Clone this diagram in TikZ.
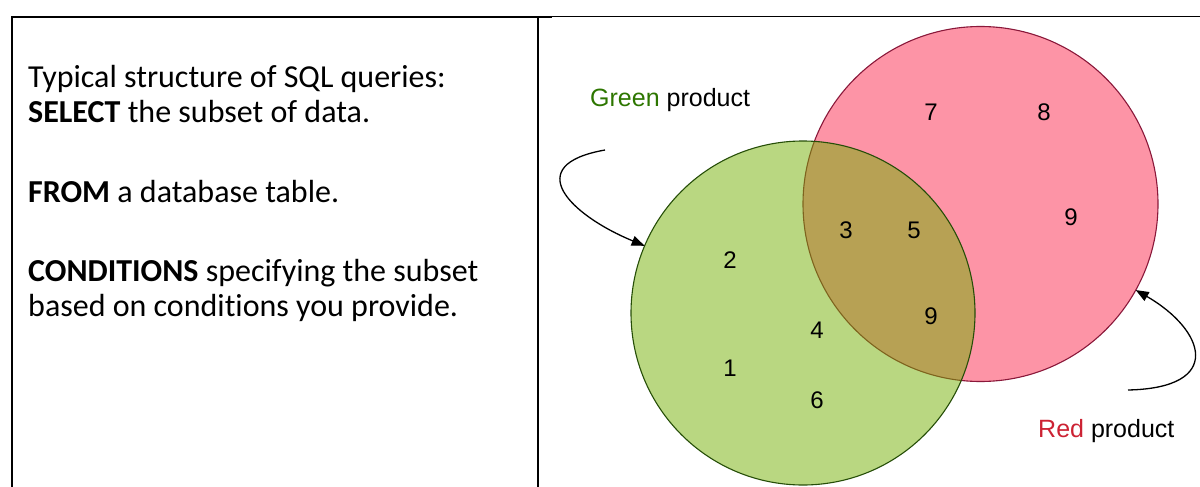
\documentclass[tikz,border=0pt]{standalone}
\usepackage{fontspec}
\setmainfont{Carlito}[Ligatures=NoCommon]
\newfontfamily\labelfont{Liberation Sans}
\usetikzlibrary{arrows.meta}

\definecolor{greenfill}{RGB}{115,175,3}
\definecolor{greenline}{RGB}{38,78,8}
\definecolor{redfill}{RGB}{253,148,166}
\definecolor{redline}{RGB}{138,24,58}
\definecolor{greentext}{RGB}{45,118,0}
\definecolor{redtext}{RGB}{204,34,51}

\tikzset{
  frame/.style={line width=2pt, line cap=rect},
  thinframe/.style={line width=1pt},
  bodytext/.style={anchor=base west, inner sep=0pt, font=\fontsize{32}{38}\selectfont},
  setcircle/.style={circle, inner sep=0pt, outer sep=0pt, line width=1.1pt},
  member/.style={inner sep=0pt, font=\labelfont\fontsize{24}{28}\selectfont},
  caption/.style={anchor=base west, inner sep=0pt, font=\labelfont\fontsize{25}{30}\selectfont},
  pointer/.style={line width=1.3pt, -{Triangle[length=13pt,width=10pt]}}
}

\begin{document}
\begin{tikzpicture}[x=1pt,y=-1pt]
\useasboundingbox (0,0) rectangle (1200,487);

% table frame
\draw[frame] (12,487) -- (12,17) -- (551,17);
\draw[frame] (538,17) -- (538,487);
\draw[thinframe] (551,17) -- (1200,17);

% left cell text
\node[bodytext] (l1) at (28,88) {Typical structure of SQL queries:};
\node[bodytext] (l2) at (28,122) {\textbf{SELECT} the subset of data.};
\node[bodytext] (l3) at (28,202) {\textbf{FROM} a database table.};
\node[bodytext] (l4) at (28,281) {\textbf{CONDITIONS} specifying the subset};
\node[bodytext] (l5) at (28,316) {based on conditions you provide.};

% Venn diagram
\node[setcircle, minimum size=355pt, fill=redfill, draw=redline] (red) at (980.5,204) {};
\node[setcircle, minimum size=344pt, fill=greenfill, fill opacity=0.5, draw=greenline] (green) at (803,313) {};

% set members
\node[member] (m7) at (931,112) {7};
\node[member] (m8) at (1044,112) {8};
\node[member] (m9a) at (1071,217) {9};
\node[member] (m3) at (846,230) {3};
\node[member] (m5) at (914,230) {5};
\node[member] (m2) at (730,260) {2};
\node[member] (m9b) at (931,316) {9};
\node[member] (m4) at (817,330) {4};
\node[member] (m1) at (730,368) {1};
\node[member] (m6) at (817,400) {6};

% captions
\node[caption] (gcap) at (590,106.5) {\textcolor{greentext}{Green} product};
\node[caption] (rcap) at (1038,437) {\textcolor{redtext}{Red} product};

% pointers
\coordinate (gstart) at (605,150);
\coordinate (rstart) at (1128,390);
\draw[pointer] (gstart) .. controls (520,165) and (570,215) .. (green.157);
\draw[pointer] (rstart) .. controls (1225,388) and (1205,330) .. (red.-29);
\end{tikzpicture}
\end{document}
